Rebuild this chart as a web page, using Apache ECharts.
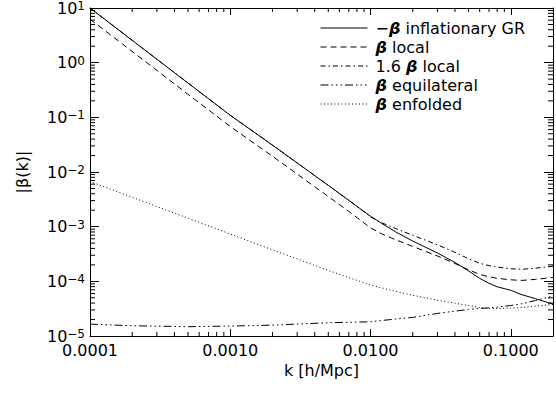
<!DOCTYPE html>
<html><head><meta charset="utf-8">
<script src="https://cdn.jsdelivr.net/npm/echarts@6/dist/echarts.min.js"></script>
<style>html,body{margin:0;padding:0;background:#fff}#c{width:556px;height:394px}</style>
</head><body><div id="c"></div>
<script>
// ---- data ----
const kValues = [1e-4, 2e-4, 5e-4, 1e-3, 2e-3, 5e-3, 7e-3, 1e-2, 1.2e-2, 1.5e-2, 2e-2, 3e-2, 4e-2, 5e-2, 6e-2, 7e-2, 8e-2, 0.1, 0.12, 0.15, 0.2];
const betaGR = [10, 2.56, 0.423, 0.109, 0.0310, 5.69e-3, 3.03e-3, 1.55e-3, 1.15e-3, 8.11e-4, 5.45e-4, 3.3e-4, 2.22e-4, 1.55e-4, 1.135e-4, 9.2e-5, 7.94e-5, 6.86e-5, 5.69e-5, 4.82e-5, 3.82e-5];
const betaLocal = [6.25, 1.6, 0.264, 0.068, 0.0194, 3.56e-3, 1.90e-3, 9.5e-4, 7.4e-4, 5.8e-4, 4.35e-4, 2.91e-4, 2.12e-4, 1.62e-4, 1.34e-4, 1.21e-4, 1.135e-4, 1.065e-4, 1.04e-4, 1.087e-4, 1.18e-4];
const beta16Local = [10, 2.56, 0.423, 0.109, 0.0310, 5.70e-3, 3.04e-3, 1.52e-3, 1.18e-3, 9.3e-4, 6.96e-4, 4.66e-4, 3.39e-4, 2.59e-4, 2.14e-4, 1.94e-4, 1.82e-4, 1.70e-4, 1.66e-4, 1.74e-4, 1.89e-4];
const betaEquil = [1.65e-5, 1.54e-5, 1.48e-5, 1.52e-5, 1.58e-5, 1.75e-5, 1.78e-5, 1.82e-5, 1.92e-5, 2.04e-5, 2.19e-5, 2.59e-5, 2.85e-5, 3.06e-5, 3.19e-5, 3.27e-5, 3.37e-5, 3.61e-5, 3.9e-5, 4.45e-5, 5.4e-5];
const betaEnfolded = [6.7e-3, 3.45e-3, 1.43e-3, 7.33e-4, 3.77e-4, 1.58e-4, 1.17e-4, 8.6e-5, 7.6e-5, 6.58e-5, 5.56e-5, 4.52e-5, 3.98e-5, 3.61e-5, 3.32e-5, 3.19e-5, 3.19e-5, 3.23e-5, 3.32e-5, 3.51e-5, 3.77e-5];
const seriesNames = ['−β inflationary GR', 'β local', '1.6 β local', 'β equilateral', 'β enfolded'];
const xMin = 1e-4, xMax = 0.2, yMin = 1e-5, yMax = 10;
const xTickLabels = ['0.0001', '0.0010', '0.0100', '0.1000'];
const xName = 'k [h/Mpc]';
const yName = '|β(k)|';

// ---- helpers ----
const FONT = 'DejaVu Sans';
function powerOf10(v) { const l = Math.log10(v); const n = Math.round(l); return Math.abs(l - n) < 1e-6 ? n : null; }
function minorTicks(lo, hi) {
  const out = [];
  for (let e = Math.floor(Math.log10(lo)); e <= Math.ceil(Math.log10(hi)); e++) {
    for (let m = 2; m <= 9; m++) { const v = m * Math.pow(10, e); if (v > lo * 1.0001 && v < hi * 0.9999) out.push(v); }
  }
  return out;
}
const xMinor = minorTicks(xMin, xMax);
const yMinor = minorTicks(yMin, yMax);
const pair = (xs, ys) => xs.map((x, i) => [x, ys[i]]);

const chart = echarts.init(document.getElementById('c'), null, { renderer: 'svg' });
const lineBase = (name, data, type) => ({
  name, type: 'line', data: pair(kValues, data), symbol: 'none', showSymbol: false, smooth: false,
  lineStyle: { color: '#000', width: 1, type }, itemStyle: { color: '#000' }, animation: false, z: 3
});
const axisCommon = {
  type: 'log', logBase: 10,
  axisLine: { show: true, lineStyle: { color: '#000', width: 1 } },
  splitLine: { show: false }, minorTick: { show: false }, minorSplitLine: { show: false }
};
const legendRich = {
  t: { fontFamily: FONT, fontSize: 16, lineHeight: 16, color: '#000' },
  b: { fontFamily: FONT, fontSize: 16, lineHeight: 16, color: '#000', fontWeight: 'bold', fontStyle: 'italic' }
};
const legendFmt = {
  '−β inflationary GR': '{t|−}{b|β}{t| inflationary GR}',
  'β local': '{b|β}{t| local}',
  '1.6 β local': '{t|1.6 }{b|β}{t| local}',
  'β equilateral': '{b|β}{t| equilateral}',
  'β enfolded': '{b|β}{t| enfolded}'
};

chart.setOption({
  animation: false,
  backgroundColor: '#fff',
  grid: { left: 90, right: 2, top: 6, bottom: 58, containLabel: false },
  legend: {
    orient: 'vertical', left: 315, top: 15, itemWidth: 47, itemHeight: 16, itemGap: 3,
    data: seriesNames, formatter: n => legendFmt[n],
    itemStyle: { opacity: 0, borderWidth: 0 },
    lineStyle: { width: 1 },
    textStyle: { fontFamily: FONT, fontSize: 16, lineHeight: 16, color: '#000', rich: legendRich, padding: [0, 0, 0, 3] },
    selectedMode: false
  },
  xAxis: [
    Object.assign({}, axisCommon, {
      min: xMin, max: xMax, position: 'bottom',
      name: xName, nameLocation: 'middle', nameGap: 24,
      nameTextStyle: { fontFamily: FONT, fontSize: 16, color: '#000' },
      axisTick: { show: true, inside: true, length: 7, lineStyle: { color: '#000' } },
      axisLabel: {
        margin: 6, fontFamily: FONT, fontSize: 16, color: '#000', showMinLabel: true, showMaxLabel: true,
        formatter: v => { const n = powerOf10(v); return n === null ? '' : xTickLabels[n + 4] || ''; }
      }
    }),
    Object.assign({}, axisCommon, {
      min: xMin, max: xMax, position: 'top',
      axisTick: { show: true, inside: true, length: 7, lineStyle: { color: '#000' } },
      axisLabel: { show: false }
    })
  ],
  yAxis: [
    Object.assign({}, axisCommon, {
      min: yMin, max: yMax, position: 'left',
      name: yName, nameLocation: 'middle', nameGap: 60, nameRotate: 90,
      nameTextStyle: { fontFamily: FONT, fontSize: 16, color: '#000' },
      axisTick: { show: true, inside: true, length: 9, lineStyle: { color: '#000' } },
      axisLabel: {
        margin: 5, fontFamily: FONT, fontSize: 16, color: '#000',
        formatter: v => { const n = powerOf10(v); if (n === null) return ''; return '{b|10}{s|' + (n < 0 ? '−' + (-n) : n) + '}'; },
        rich: {
          b: { fontFamily: FONT, fontSize: 16, lineHeight: 16, color: '#000' },
          s: { fontFamily: FONT, fontSize: 12, lineHeight: 8, verticalAlign: 'top', color: '#000' }
        }
      }
    }),
    Object.assign({}, axisCommon, {
      min: yMin, max: yMax, position: 'right',
      axisTick: { show: true, inside: true, length: 9, lineStyle: { color: '#000' } },
      axisLabel: { show: false }
    })
  ],
  series: [
    lineBase(seriesNames[0], betaGR, 'solid'),
    lineBase(seriesNames[1], betaLocal, [6, 4]),
    lineBase(seriesNames[2], beta16Local, [5, 3, 1.5, 3]),
    lineBase(seriesNames[3], betaEquil, [8, 3, 1.5, 3, 1.5, 3, 1.5, 3]),
    lineBase(seriesNames[4], betaEnfolded, [1, 2.5]),
    {
      type: 'custom', silent: true, clip: false, z: 2,
      data: xMinor.map(k => [k, yMin]),
      renderItem: (params, api) => {
        const k = api.value(0);
        const b = api.coord([k, yMin]), t = api.coord([k, yMax]);
        return { type: 'group', children: [
          { type: 'line', shape: { x1: b[0], y1: b[1], x2: b[0], y2: b[1] - 4 }, style: { stroke: '#000', lineWidth: 1 } },
          { type: 'line', shape: { x1: t[0], y1: t[1], x2: t[0], y2: t[1] + 4 }, style: { stroke: '#000', lineWidth: 1 } }
        ] };
      }
    },
    {
      type: 'custom', silent: true, clip: false, z: 2,
      data: yMinor.map(v => [xMin, v]),
      renderItem: (params, api) => {
        const v = api.value(1);
        const l = api.coord([xMin, v]), r = api.coord([xMax, v]);
        return { type: 'group', children: [
          { type: 'line', shape: { x1: l[0], y1: l[1], x2: l[0] + 5, y2: l[1] }, style: { stroke: '#000', lineWidth: 1 } },
          { type: 'line', shape: { x1: r[0], y1: r[1], x2: r[0] - 5, y2: r[1] }, style: { stroke: '#000', lineWidth: 1 } }
        ] };
      }
    }
  ]
});
</script></body></html>
